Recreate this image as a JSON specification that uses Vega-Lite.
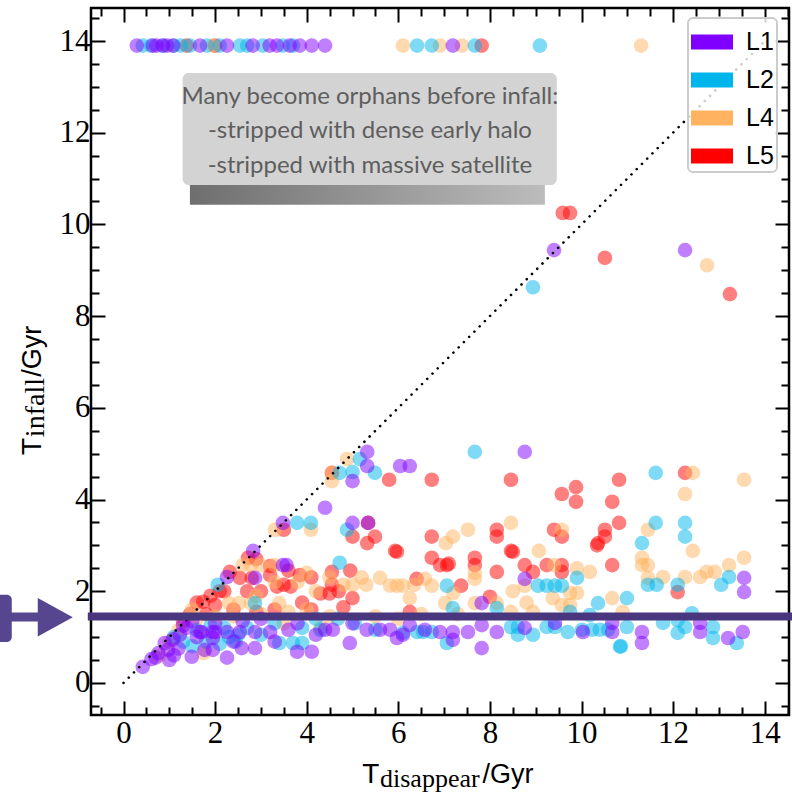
{
  "$schema": "https://vega.github.io/schema/vega-lite/v6.json",
  "width": 698,
  "height": 707,
  "autosize": {"type": "none"},
  "padding": {"left": 91, "top": 8, "right": 3, "bottom": 80},
  "config": {
    "view": {"stroke": "#000", "strokeWidth": 2.5},
    "legend": {
      "orient": "none", "legendX": 597, "legendY": 10, "title": null,
      "symbolType": "M-1,-0.36L1,-0.36L1,0.36L-1,0.36Z", "symbolSize": 1764, "symbolOpacity": 1, "symbolStrokeWidth": 0,
      "labelFont": "Liberation Sans", "labelFontSize": 25, "labelColor": "#000", "labelOffset": 13,
      "padding": 3, "rowPadding": 4, "strokeColor": "#cccccc", "strokeWidth": 2, "cornerRadius": 5,
      "fillColor": "rgba(255,255,255,0.8)"
    }
  },
  "data": {"values": [{}]},
  "datasets": {
    "pts": [
      {"td":1.38,"ti":13.9,"level":"L5"},{"td":2.0,"ti":13.9,"level":"L5"},{"td":7.82,"ti":13.9,"level":"L5"},
      {"td":9.59,"ti":10.25,"level":"L5"},{"td":9.75,"ti":10.25,"level":"L5"},{"td":10.51,"ti":9.27,"level":"L5"},{"td":13.24,"ti":8.48,"level":"L5"},
      {"td":4.55,"ti":4.58,"level":"L5"},{"td":3.5,"ti":3.34,"level":"L5"},{"td":2.72,"ti":2.73,"level":"L5"},{"td":1.6,"ti":1.75,"level":"L5"},
      {"td":1.74,"ti":1.77,"level":"L5"},{"td":1.45,"ti":1.5,"level":"L5"},{"td":1.3,"ti":1.35,"level":"L5"},{"td":1.9,"ti":1.9,"level":"L5"},
      {"td":2.1,"ti":2.0,"level":"L5"},{"td":5.8,"ti":4.43,"level":"L5"},{"td":5.0,"ti":3.19,"level":"L5"},{"td":5.49,"ti":3.19,"level":"L5"},
      {"td":5.32,"ti":3.05,"level":"L5"},{"td":5.93,"ti":2.88,"level":"L5"},{"td":5.34,"ti":3.49,"level":"L5"},{"td":4.55,"ti":2.42,"level":"L5"},
      {"td":6.73,"ti":4.43,"level":"L5"},{"td":8.46,"ti":4.43,"level":"L5"},{"td":9.57,"ti":4.12,"level":"L5"},{"td":9.88,"ti":4.27,"level":"L5"},
      {"td":9.88,"ti":3.95,"level":"L5"},{"td":10.82,"ti":4.43,"level":"L5"},{"td":10.67,"ti":3.95,"level":"L5"},{"td":12.26,"ti":4.58,"level":"L5"},
      {"td":6.73,"ti":3.19,"level":"L5"},{"td":8.15,"ti":3.34,"level":"L5"},{"td":8.15,"ti":3.19,"level":"L5"},{"td":9.4,"ti":3.34,"level":"L5"},
      {"td":9.57,"ti":3.19,"level":"L5"},{"td":10.51,"ti":3.34,"level":"L5"},{"td":10.51,"ti":3.19,"level":"L5"},{"td":10.36,"ti":3.05,"level":"L5"},
      {"td":10.82,"ti":3.49,"level":"L5"},{"td":8.46,"ti":2.88,"level":"L5"},{"td":8.5,"ti":2.86,"level":"L5"},{"td":6.73,"ti":2.73,"level":"L5"},
      {"td":6.91,"ti":2.57,"level":"L5"},{"td":7.06,"ti":2.57,"level":"L5"},{"td":7.1,"ti":2.6,"level":"L5"},{"td":7.67,"ti":2.73,"level":"L5"},
      {"td":7.67,"ti":2.57,"level":"L5"},{"td":8.15,"ti":2.42,"level":"L5"},{"td":8.76,"ti":2.57,"level":"L5"},{"td":8.94,"ti":2.42,"level":"L5"},
      {"td":9.24,"ti":2.57,"level":"L5"},{"td":9.57,"ti":2.57,"level":"L5"},{"td":9.57,"ti":2.42,"level":"L5"},{"td":10.67,"ti":2.57,"level":"L5"},
      {"td":12.1,"ti":1.98,"level":"L5"},{"td":5.97,"ti":2.86,"level":"L5"},{"td":6.4,"ti":2.27,"level":"L5"},{"td":7.37,"ti":2.12,"level":"L5"},
      {"td":8.0,"ti":1.88,"level":"L5"},{"td":6.25,"ti":1.55,"level":"L5"},{"td":10.34,"ti":3.0,"level":"L5"},
      {"td":2.32,"ti":2.42,"level":"L5"},{"td":2.54,"ti":2.29,"level":"L5"},{"td":2.8,"ti":2.29,"level":"L5"},{"td":3.2,"ti":2.35,"level":"L5"},
      {"td":3.35,"ti":2.1,"level":"L5"},{"td":3.5,"ti":2.14,"level":"L5"},{"td":3.65,"ti":2.1,"level":"L5"},{"td":3.85,"ti":2.35,"level":"L5"},
      {"td":4.1,"ti":2.3,"level":"L5"},{"td":4.3,"ti":1.95,"level":"L5"},{"td":4.5,"ti":1.95,"level":"L5"},{"td":4.55,"ti":2.14,"level":"L5"},
      {"td":4.8,"ti":1.65,"level":"L5"},{"td":5.0,"ti":1.85,"level":"L5"},{"td":2.2,"ti":2.0,"level":"L5"},{"td":2.0,"ti":1.7,"level":"L5"},
      {"td":2.4,"ti":1.6,"level":"L5"},{"td":2.7,"ti":2.0,"level":"L5"},{"td":3.0,"ti":2.0,"level":"L5"},{"td":3.3,"ti":1.6,"level":"L5"},
      {"td":3.9,"ti":1.75,"level":"L5"},{"td":4.1,"ti":1.6,"level":"L5"},{"td":1.8,"ti":1.5,"level":"L5"},{"td":2.9,"ti":2.7,"level":"L5"},
      {"td":3.2,"ti":2.55,"level":"L5"},{"td":2.9,"ti":1.55,"level":"L5"},{"td":3.6,"ti":2.45,"level":"L5"},{"td":4.95,"ti":2.45,"level":"L5"},
      {"td":4.7,"ti":2.0,"level":"L5"},

      {"td":6.1,"ti":13.9,"level":"L4"},{"td":6.91,"ti":13.9,"level":"L4"},{"td":7.39,"ti":13.9,"level":"L4"},{"td":11.3,"ti":13.9,"level":"L4"},{"td":1.95,"ti":13.9,"level":"L4"},
      {"td":4.88,"ti":4.88,"level":"L4"},{"td":4.55,"ti":4.58,"level":"L4"},{"td":4.55,"ti":4.4,"level":"L4"},{"td":3.31,"ti":3.34,"level":"L4"},{"td":12.74,"ti":9.11,"level":"L4"},
      {"td":4.09,"ti":3.34,"level":"L4"},{"td":2.6,"ti":2.57,"level":"L4"},{"td":2.78,"ti":2.57,"level":"L4"},{"td":3.0,"ti":2.57,"level":"L4"},{"td":3.3,"ti":2.57,"level":"L4"},
      {"td":13.55,"ti":4.43,"level":"L4"},{"td":12.43,"ti":4.58,"level":"L4"},{"td":12.26,"ti":4.12,"level":"L4"},{"td":7.19,"ti":3.19,"level":"L4"},{"td":7.52,"ti":3.34,"level":"L4"},
      {"td":8.46,"ti":3.49,"level":"L4"},{"td":9.57,"ti":3.34,"level":"L4"},{"td":11.45,"ti":3.34,"level":"L4"},{"td":12.43,"ti":2.88,"level":"L4"},{"td":9.07,"ti":2.88,"level":"L4"},
      {"td":7.04,"ti":3.05,"level":"L4"},{"td":7.67,"ti":2.4,"level":"L4"},{"td":9.4,"ti":2.57,"level":"L4"},{"td":10.18,"ti":2.42,"level":"L4"},{"td":11.32,"ti":2.73,"level":"L4"},
      {"td":11.45,"ti":2.57,"level":"L4"},{"td":11.32,"ti":2.57,"level":"L4"},{"td":11.78,"ti":2.31,"level":"L4"},{"td":12.26,"ti":2.31,"level":"L4"},{"td":12.59,"ti":2.31,"level":"L4"},
      {"td":12.73,"ti":2.42,"level":"L4"},{"td":12.91,"ti":2.42,"level":"L4"},{"td":13.22,"ti":2.57,"level":"L4"},{"td":13.55,"ti":2.73,"level":"L4"},{"td":5.82,"ti":2.12,"level":"L4"},
      {"td":5.97,"ti":2.12,"level":"L4"},{"td":6.1,"ti":2.12,"level":"L4"},{"td":6.58,"ti":2.27,"level":"L4"},{"td":6.73,"ti":2.12,"level":"L4"},{"td":7.2,"ti":1.96,"level":"L4"},
      {"td":7.67,"ti":2.27,"level":"L4"},{"td":6.25,"ti":1.85,"level":"L4"},{"td":8.76,"ti":2.12,"level":"L4"},{"td":9.75,"ti":1.96,"level":"L4"},{"td":9.9,"ti":1.96,"level":"L4"},
      {"td":9.37,"ti":1.85,"level":"L4"},{"td":9.57,"ti":1.7,"level":"L4"},{"td":9.75,"ti":1.7,"level":"L4"},{"td":7.02,"ti":1.74,"level":"L4"},{"td":7.67,"ti":1.74,"level":"L4"},
      {"td":8.15,"ti":1.74,"level":"L4"},{"td":8.46,"ti":1.55,"level":"L4"},{"td":8.94,"ti":1.55,"level":"L4"},{"td":10.67,"ti":1.85,"level":"L4"},{"td":11.45,"ti":2.29,"level":"L4"},
      {"td":2.52,"ti":1.74,"level":"L4"},{"td":2.3,"ti":1.74,"level":"L4"},{"td":2.78,"ti":1.74,"level":"L4"},{"td":4.8,"ti":2.14,"level":"L4"},{"td":5.3,"ti":2.14,"level":"L4"},
      {"td":5.6,"ti":2.29,"level":"L4"},{"td":3.4,"ti":1.74,"level":"L4"},{"td":3.6,"ti":1.55,"level":"L4"},{"td":4.0,"ti":1.6,"level":"L4"},{"td":3.8,"ti":2.2,"level":"L4"},
      {"td":4.2,"ti":2.0,"level":"L4"},{"td":1.5,"ti":1.6,"level":"L4"},{"td":1.2,"ti":1.15,"level":"L4"},{"td":1.0,"ti":0.9,"level":"L4"},{"td":1.6,"ti":1.4,"level":"L4"},
      {"td":2.0,"ti":1.45,"level":"L4"},{"td":2.4,"ti":1.45,"level":"L4"},{"td":3.0,"ti":1.5,"level":"L4"},{"td":4.5,"ti":1.45,"level":"L4"},{"td":5.5,"ti":1.45,"level":"L4"},
      {"td":6.0,"ti":1.4,"level":"L4"},{"td":6.5,"ti":1.5,"level":"L4"},{"td":7.3,"ti":1.5,"level":"L4"},{"td":3.5,"ti":1.3,"level":"L4"},{"td":4.3,"ti":1.2,"level":"L4"},
      {"td":2.9,"ti":1.9,"level":"L4"},{"td":3.3,"ti":2.2,"level":"L4"},{"td":4.5,"ti":2.3,"level":"L4"},{"td":4.0,"ti":2.4,"level":"L4"},{"td":5.2,"ti":2.3,"level":"L4"},
      {"td":1.75,"ti":0.65,"level":"L4"},{"td":0.8,"ti":0.6,"level":"L4"},{"td":5.0,"ti":2.14,"level":"L4"},{"td":6.35,"ti":2.14,"level":"L4"},{"td":8.5,"ti":2.0,"level":"L4"},
      {"td":8.8,"ti":1.75,"level":"L4"},{"td":10.9,"ti":1.55,"level":"L4"},{"td":9.9,"ti":2.5,"level":"L4"},

      {"td":0.42,"ti":13.9,"level":"L2"},{"td":0.6,"ti":13.9,"level":"L2"},{"td":0.86,"ti":13.9,"level":"L2"},{"td":1.1,"ti":13.9,"level":"L2"},{"td":1.25,"ti":13.9,"level":"L2"},
      {"td":1.45,"ti":13.9,"level":"L2"},{"td":1.82,"ti":13.9,"level":"L2"},{"td":2.1,"ti":13.9,"level":"L2"},{"td":2.54,"ti":13.9,"level":"L2"},{"td":2.7,"ti":13.9,"level":"L2"},
      {"td":3.04,"ti":13.9,"level":"L2"},{"td":3.48,"ti":13.9,"level":"L2"},{"td":3.7,"ti":13.9,"level":"L2"},{"td":6.41,"ti":13.9,"level":"L2"},{"td":6.73,"ti":13.9,"level":"L2"},
      {"td":7.67,"ti":13.9,"level":"L2"},{"td":9.09,"ti":13.9,"level":"L2"},
      {"td":4.72,"ti":4.58,"level":"L2"},{"td":5.0,"ti":4.6,"level":"L2"},{"td":5.16,"ti":4.88,"level":"L2"},{"td":5.49,"ti":4.58,"level":"L2"},{"td":4.09,"ti":3.49,"level":"L2"},
      {"td":3.79,"ti":3.49,"level":"L2"},{"td":4.88,"ti":3.34,"level":"L2"},{"td":4.72,"ti":2.62,"level":"L2"},{"td":7.67,"ti":5.04,"level":"L2"},{"td":8.94,"ti":8.63,"level":"L2"},
      {"td":11.62,"ti":4.58,"level":"L2"},{"td":11.62,"ti":3.49,"level":"L2"},{"td":12.26,"ti":3.49,"level":"L2"},{"td":12.26,"ti":3.19,"level":"L2"},{"td":11.32,"ti":3.05,"level":"L2"},
      {"td":13.22,"ti":2.31,"level":"L2"},{"td":12.1,"ti":2.14,"level":"L2"},{"td":11.45,"ti":2.14,"level":"L2"},{"td":11.64,"ti":2.14,"level":"L2"},{"td":13.05,"ti":2.14,"level":"L2"},
      {"td":9.9,"ti":2.29,"level":"L2"},{"td":9.05,"ti":2.12,"level":"L2"},{"td":9.24,"ti":2.12,"level":"L2"},{"td":9.42,"ti":2.12,"level":"L2"},{"td":9.57,"ti":2.12,"level":"L2"},
      {"td":7.06,"ti":2.12,"level":"L2"},{"td":7.19,"ti":1.63,"level":"L2"},{"td":8.15,"ti":1.63,"level":"L2"},{"td":9.75,"ti":1.55,"level":"L2"},{"td":10.18,"ti":1.48,"level":"L2"},
      {"td":10.99,"ti":1.85,"level":"L2"},{"td":10.36,"ti":1.74,"level":"L2"},{"td":2.87,"ti":1.74,"level":"L2"},{"td":2.06,"ti":2.14,"level":"L2"},
      {"td":6.1,"ti":1.09,"level":"L2"},{"td":6.41,"ti":1.11,"level":"L2"},{"td":6.54,"ti":1.11,"level":"L2"},{"td":6.73,"ti":1.11,"level":"L2"},{"td":7.06,"ti":0.87,"level":"L2"},
      {"td":8.46,"ti":1.22,"level":"L2"},{"td":8.61,"ti":1.22,"level":"L2"},{"td":8.61,"ti":1.05,"level":"L2"},{"td":8.94,"ti":1.05,"level":"L2"},{"td":9.24,"ti":1.22,"level":"L2"},
      {"td":9.42,"ti":1.22,"level":"L2"},{"td":9.7,"ti":1.11,"level":"L2"},{"td":10.01,"ti":1.16,"level":"L2"},{"td":10.23,"ti":1.16,"level":"L2"},{"td":10.4,"ti":1.16,"level":"L2"},
      {"td":10.58,"ti":1.16,"level":"L2"},{"td":10.99,"ti":1.22,"level":"L2"},{"td":10.84,"ti":0.79,"level":"L2"},{"td":10.86,"ti":0.8,"level":"L2"},{"td":11.78,"ti":1.31,"level":"L2"},
      {"td":12.1,"ti":1.37,"level":"L2"},{"td":12.41,"ti":1.52,"level":"L2"},{"td":12.1,"ti":1.09,"level":"L2"},{"td":12.26,"ti":1.22,"level":"L2"},{"td":12.87,"ti":1.22,"level":"L2"},
      {"td":12.87,"ti":0.98,"level":"L2"},{"td":13.39,"ti":0.87,"level":"L2"},{"td":5.5,"ti":1.16,"level":"L2"},{"td":5.05,"ti":1.3,"level":"L2"},{"td":4.68,"ti":1.4,"level":"L2"},
      {"td":4.2,"ti":1.4,"level":"L2"},{"td":3.7,"ti":0.87,"level":"L2"},{"td":3.9,"ti":0.87,"level":"L2"},{"td":3.4,"ti":0.87,"level":"L2"},{"td":3.0,"ti":1.05,"level":"L2"},
      {"td":2.45,"ti":0.9,"level":"L2"},{"td":1.8,"ti":0.9,"level":"L2"},{"td":1.5,"ti":0.8,"level":"L2"},{"td":1.3,"ti":0.9,"level":"L2"},{"td":1.9,"ti":1.25,"level":"L2"},
      {"td":2.3,"ti":1.0,"level":"L2"},{"td":3.3,"ti":1.3,"level":"L2"},{"td":3.9,"ti":1.2,"level":"L2"},{"td":4.3,"ti":1.15,"level":"L2"},{"td":1.1,"ti":1.0,"level":"L2"},
      {"td":2.1,"ti":0.85,"level":"L2"},{"td":2.7,"ti":1.2,"level":"L2"},{"td":1.6,"ti":1.15,"level":"L2"},{"td":2.2,"ti":1.2,"level":"L2"},{"td":2.5,"ti":1.05,"level":"L2"},

      {"td":0.29,"ti":13.9,"level":"L1"},{"td":0.64,"ti":13.9,"level":"L1"},{"td":0.72,"ti":13.9,"level":"L1"},{"td":0.86,"ti":13.9,"level":"L1"},{"td":0.95,"ti":13.9,"level":"L1"},
      {"td":1.08,"ti":13.9,"level":"L1"},{"td":1.67,"ti":13.9,"level":"L1"},{"td":2.26,"ti":13.9,"level":"L1"},{"td":2.82,"ti":13.9,"level":"L1"},{"td":3.19,"ti":13.9,"level":"L1"},
      {"td":3.35,"ti":13.9,"level":"L1"},{"td":3.63,"ti":13.9,"level":"L1"},{"td":3.85,"ti":13.9,"level":"L1"},{"td":4.11,"ti":13.9,"level":"L1"},{"td":4.4,"ti":13.9,"level":"L1"},
      {"td":7.19,"ti":13.9,"level":"L1"},
      {"td":0.42,"ti":0.35,"level":"L1"},{"td":0.61,"ti":0.52,"level":"L1"},{"td":0.76,"ti":0.65,"level":"L1"},{"td":0.97,"ti":0.72,"level":"L1"},{"td":0.9,"ti":0.87,"level":"L1"},
      {"td":1.08,"ti":0.95,"level":"L1"},{"td":1.23,"ti":1.05,"level":"L1"},{"td":1.38,"ti":1.2,"level":"L1"},{"td":2.26,"ti":2.31,"level":"L1"},{"td":2.83,"ti":2.88,"level":"L1"},
      {"td":3.48,"ti":3.49,"level":"L1"},{"td":5.32,"ti":5.04,"level":"L1"},{"td":9.4,"ti":9.44,"level":"L1"},{"td":5.32,"ti":4.73,"level":"L1"},{"td":5.0,"ti":4.4,"level":"L1"},
      {"td":4.4,"ti":3.82,"level":"L1"},{"td":5.0,"ti":3.49,"level":"L1"},{"td":5.34,"ti":3.49,"level":"L1"},{"td":6.04,"ti":4.73,"level":"L1"},{"td":6.25,"ti":4.73,"level":"L1"},
      {"td":8.76,"ti":5.04,"level":"L1"},{"td":12.26,"ti":9.44,"level":"L1"},{"td":3.56,"ti":2.57,"level":"L1"},{"td":3.48,"ti":2.57,"level":"L1"},{"td":2.87,"ti":2.29,"level":"L1"},
      {"td":8.76,"ti":2.27,"level":"L1"},{"td":13.55,"ti":2.29,"level":"L1"},{"td":13.55,"ti":1.98,"level":"L1"},{"td":7.82,"ti":1.74,"level":"L1"},
      {"td":1.67,"ti":1.11,"level":"L1"},{"td":1.95,"ti":1.11,"level":"L1"},{"td":2.26,"ti":1.11,"level":"L1"},{"td":2.54,"ti":1.11,"level":"L1"},{"td":2.87,"ti":1.11,"level":"L1"},
      {"td":3.2,"ti":1.11,"level":"L1"},{"td":1.95,"ti":0.98,"level":"L1"},{"td":1.49,"ti":0.57,"level":"L1"},{"td":1.77,"ti":0.72,"level":"L1"},{"td":1.95,"ti":0.72,"level":"L1"},
      {"td":2.26,"ti":0.55,"level":"L1"},{"td":2.58,"ti":0.76,"level":"L1"},{"td":2.87,"ti":0.76,"level":"L1"},{"td":3.79,"ti":0.68,"level":"L1"},{"td":4.11,"ti":0.68,"level":"L1"},
      {"td":4.4,"ti":1.16,"level":"L1"},{"td":4.57,"ti":1.16,"level":"L1"},{"td":4.94,"ti":0.87,"level":"L1"},{"td":5.31,"ti":1.16,"level":"L1"},{"td":5.6,"ti":1.16,"level":"L1"},
      {"td":5.82,"ti":1.16,"level":"L1"},{"td":5.97,"ti":0.98,"level":"L1"},{"td":6.25,"ti":1.26,"level":"L1"},{"td":6.58,"ti":1.16,"level":"L1"},{"td":6.91,"ti":1.11,"level":"L1"},
      {"td":7.19,"ti":1.11,"level":"L1"},{"td":7.19,"ti":0.94,"level":"L1"},{"td":7.52,"ti":1.11,"level":"L1"},{"td":7.82,"ti":1.26,"level":"L1"},{"td":8.15,"ti":1.11,"level":"L1"},
      {"td":7.82,"ti":0.76,"level":"L1"},{"td":9.42,"ti":1.31,"level":"L1"},{"td":10.03,"ti":1.11,"level":"L1"},{"td":10.67,"ti":1.31,"level":"L1"},{"td":10.67,"ti":1.11,"level":"L1"},
      {"td":11.32,"ti":1.11,"level":"L1"},{"td":11.32,"ti":0.87,"level":"L1"},{"td":12.59,"ti":1.31,"level":"L1"},{"td":12.59,"ti":1.11,"level":"L1"},{"td":13.2,"ti":0.98,"level":"L1"},
      {"td":13.52,"ti":1.11,"level":"L1"},{"td":1.3,"ti":1.25,"level":"L1"},{"td":1.5,"ti":1.35,"level":"L1"},{"td":1.1,"ti":0.6,"level":"L1"},{"td":1.2,"ti":0.75,"level":"L1"},
      {"td":0.7,"ti":0.55,"level":"L1"},{"td":1.0,"ti":0.5,"level":"L1"},{"td":3.0,"ti":1.4,"level":"L1"},{"td":3.6,"ti":1.16,"level":"L1"},{"td":4.2,"ti":1.05,"level":"L1"},
      {"td":2.4,"ti":0.9,"level":"L1"},{"td":3.3,"ti":0.9,"level":"L1"},{"td":3.8,"ti":1.3,"level":"L1"},{"td":2.6,"ti":1.35,"level":"L1"},{"td":2.0,"ti":1.3,"level":"L1"},
      {"td":1.6,"ti":1.0,"level":"L1"},{"td":5.0,"ti":1.3,"level":"L1"},{"td":6.1,"ti":1.05,"level":"L1"},{"td":8.76,"ti":1.2,"level":"L1"},{"td":1.7,"ti":1.11,"level":"L1"},
      {"td":2.0,"ti":1.11,"level":"L1"}
    ]
  },
  "layer": [
    {
      "data": {"name": "pts"},
      "mark": {"type": "circle", "size": 215, "opacity": 0.5, "strokeWidth": 0},
      "encoding": {
        "x": {"field": "td", "type": "quantitative",
          "scale": {"domain": [-0.71, 14.53], "nice": false, "zero": false},
          "axis": {"orient": "bottom", "title": null, "domain": false, "grid": false,
            "values": [-0.5,0,0.5,1,1.5,2,2.5,3,3.5,4,4.5,5,5.5,6,6.5,7,7.5,8,8.5,9,9.5,10,10.5,11,11.5,12,12.5,13,13.5,14,14.5],
            "labelExpr": "datum.value % 2 === 0 ? format(datum.value, 'd') : ''",
            "tickSize": {"condition": {"test": "datum.value % 2 === 0", "value": -14}, "value": -8},
            "tickWidth": 2, "tickColor": "#000", "labelFont": "Liberation Serif", "labelFontSize": 31,
            "labelColor": "#000", "labelPadding": 17, "labelFlush": false, "labelOverlap": false}},
        "y": {"field": "ti", "type": "quantitative",
          "scale": {"domain": [-0.7, 14.72], "nice": false, "zero": false},
          "axis": {"orient": "left", "title": null, "domain": false, "grid": false,
            "values": [-0.5,0,0.5,1,1.5,2,2.5,3,3.5,4,4.5,5,5.5,6,6.5,7,7.5,8,8.5,9,9.5,10,10.5,11,11.5,12,12.5,13,13.5,14,14.5],
            "labelExpr": "datum.value % 2 === 0 ? format(datum.value, 'd') : ''",
            "tickSize": {"condition": {"test": "datum.value % 2 === 0", "value": -14}, "value": -8},
            "tickWidth": 2, "tickColor": "#000", "labelFont": "Liberation Serif", "labelFontSize": 31,
            "labelColor": "#000", "labelPadding": 15, "labelFlush": false, "labelOverlap": false}},
        "color": {"field": "level", "type": "nominal",
          "scale": {"domain": ["L1", "L2", "L4", "L5"], "range": ["#8000ff", "#00b5eb", "#ffb360", "#ff0000"]}}
      }
    },
    {
      "mark": {"type": "rule", "color": "#000", "strokeWidth": 2.6, "strokeDash": [0.01, 7.4], "strokeCap": "round"},
      "encoding": {
        "x": {"datum": 0, "type": "quantitative",
          "scale": {"domain": [-0.71, 14.53], "nice": false, "zero": false},
          "axis": {"orient": "top", "title": null, "domain": false, "grid": false, "labels": false,
            "values": [-0.5,0,0.5,1,1.5,2,2.5,3,3.5,4,4.5,5,5.5,6,6.5,7,7.5,8,8.5,9,9.5,10,10.5,11,11.5,12,12.5,13,13.5,14,14.5],
            "tickSize": {"condition": {"test": "datum.value % 2 === 0", "value": -14}, "value": -8},
            "tickWidth": 2, "tickColor": "#000"}},
        "y": {"datum": 0, "type": "quantitative",
          "scale": {"domain": [-0.7, 14.72], "nice": false, "zero": false},
          "axis": {"orient": "right", "title": null, "domain": false, "grid": false, "labels": false,
            "values": [-0.5,0,0.5,1,1.5,2,2.5,3,3.5,4,4.5,5,5.5,6,6.5,7,7.5,8,8.5,9,9.5,10,10.5,11,11.5,12,12.5,13,13.5,14,14.5],
            "tickSize": {"condition": {"test": "datum.value % 2 === 0", "value": -14}, "value": -8},
            "tickWidth": 2, "tickColor": "#000"}},
        "x2": {"datum": 14},
        "y2": {"datum": 14}
      }
    },
    {
      "mark": {"type": "rect", "fill": {"gradient": "linear", "stops": [{"offset": 0, "color": "#555555"}, {"offset": 1, "color": "#b0b0b0"}]}, "opacity": 0.85},
      "encoding": {
        "x": {"datum": 1.45, "type": "quantitative", "axis": null},
        "x2": {"datum": 9.2},
        "y": {"datum": 10.43, "type": "quantitative", "axis": null},
        "y2": {"datum": 10.9}
      }
    },
    {
      "mark": {"type": "rect", "fill": "#d3d3d3", "cornerRadius": 6},
      "encoding": {
        "x": {"datum": 1.29, "type": "quantitative", "axis": null},
        "x2": {"datum": 9.46},
        "y": {"datum": 10.86, "type": "quantitative", "axis": null},
        "y2": {"datum": 13.3}
      }
    },
    {
      "mark": {"type": "text", "text": "Many become orphans before infall:\n-stripped with dense early halo\n-stripped with massive satellite",
        "lineBreak": "\n", "lineHeight": 34.5, "align": "center", "baseline": "middle",
        "font": "Lato", "fontSize": 24, "color": "#5e5e5e"},
      "encoding": {
        "x": {"datum": 5.38, "type": "quantitative", "axis": null},
        "y": {"datum": 12.78, "type": "quantitative", "axis": null}
      }
    },
    {
      "mark": {"type": "rule", "color": "#48367f", "strokeWidth": 8},
      "encoding": {
        "x": {"datum": -0.78, "type": "quantitative", "axis": null},
        "x2": {"datum": 14.6},
        "y": {"datum": 1.45, "type": "quantitative", "axis": null}
      }
    },
    {
      "mark": {"type": "rule", "color": "#56468f", "strokeWidth": 9},
      "encoding": {
        "x": {"datum": -2.75, "type": "quantitative", "axis": null},
        "x2": {"datum": -1.85},
        "y": {"datum": 1.44, "type": "quantitative", "axis": null}
      }
    },
    {
      "mark": {"type": "point", "shape": "M-1,-1.1L1,0L-1,1.1Z", "size": 1225, "filled": true, "color": "#56468f", "opacity": 1},
      "encoding": {
        "x": {"datum": -1.49, "type": "quantitative", "axis": null},
        "y": {"datum": 1.43, "type": "quantitative", "axis": null}
      }
    },
    {
      "mark": {"type": "rect", "fill": "#56468f", "cornerRadius": 5},
      "encoding": {
        "x": {"datum": -2.8, "type": "quantitative", "axis": null},
        "x2": {"datum": -2.44},
        "y": {"datum": 0.89, "type": "quantitative", "axis": null},
        "y2": {"datum": 1.92}
      }
    },
    {
      "mark": {"type": "text", "text": "T", "align": "left", "baseline": "alphabetic", "font": "Liberation Sans", "fontSize": 28, "color": "#000"},
      "encoding": {
        "x": {"datum": 5.21, "type": "quantitative", "axis": null},
        "y": {"datum": -2.19, "type": "quantitative", "axis": null}
      }
    },
    {
      "mark": {"type": "text", "text": "disappear", "align": "left", "baseline": "alphabetic", "font": "Liberation Serif", "fontSize": 26, "color": "#000"},
      "encoding": {
        "x": {"datum": 5.6, "type": "quantitative", "axis": null},
        "y": {"datum": -2.27, "type": "quantitative", "axis": null}
      }
    },
    {
      "mark": {"type": "text", "text": "/Gyr", "align": "left", "baseline": "alphabetic", "font": "Liberation Sans", "fontSize": 27, "color": "#000"},
      "encoding": {
        "x": {"datum": 7.84, "type": "quantitative", "axis": null},
        "y": {"datum": -2.19, "type": "quantitative", "axis": null}
      }
    },
    {
      "mark": {"type": "text", "text": "T", "angle": 270, "align": "left", "baseline": "alphabetic", "font": "Liberation Sans", "fontSize": 28, "color": "#000"},
      "encoding": {
        "x": {"datum": -1.81, "type": "quantitative", "axis": null},
        "y": {"datum": 4.97, "type": "quantitative", "axis": null}
      }
    },
    {
      "mark": {"type": "text", "text": "infall", "angle": 270, "align": "left", "baseline": "alphabetic", "font": "Liberation Serif", "fontSize": 28, "color": "#000"},
      "encoding": {
        "x": {"datum": -1.73, "type": "quantitative", "axis": null},
        "y": {"datum": 5.36, "type": "quantitative", "axis": null}
      }
    },
    {
      "mark": {"type": "text", "text": "/Gyr", "angle": 270, "align": "left", "baseline": "alphabetic", "font": "Liberation Sans", "fontSize": 27, "color": "#000"},
      "encoding": {
        "x": {"datum": -1.81, "type": "quantitative", "axis": null},
        "y": {"datum": 6.68, "type": "quantitative", "axis": null}
      }
    }
  ],
  "resolve": {"axis": {"x": "independent", "y": "independent"}}
}
